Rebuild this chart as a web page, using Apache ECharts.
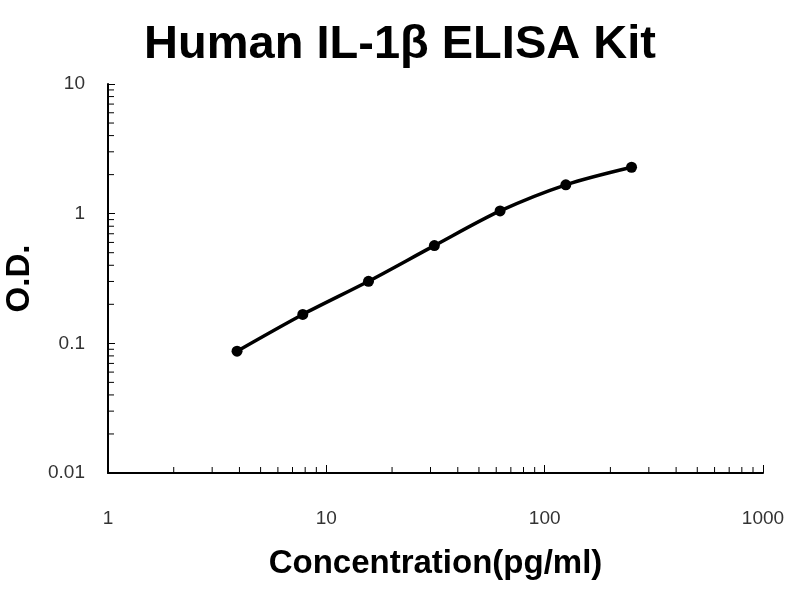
<!DOCTYPE html>
<html>
<head>
<meta charset="utf-8">
<script src="https://cdn.jsdelivr.net/npm/echarts@6/dist/echarts.min.js"></script>
<style>html,body{margin:0;padding:0;background:#fff}#c{width:800px;height:600px}</style>
</head>
<body>
<div id="c"></div>
<script>
const titleText = 'Human IL-1β ELISA Kit';
const xAxisName = 'Concentration(pg/ml)';
const yAxisName = 'O.D.';
const concentration = [3.9, 7.8, 15.6, 31.25, 62.5, 125, 250];
const od = [0.087, 0.167, 0.301, 0.567, 1.05, 1.67, 2.28];
const xRange = [1, 1000];
const yRange = [0.01, 10];
const xMinorTicks = [2,3,4,5,6,7,8,9,20,30,40,50,60,70,80,90,200,300,400,500,600,700,800,900];
const yMinorTicks = [0.02,0.03,0.04,0.05,0.06,0.07,0.08,0.09,0.2,0.3,0.4,0.5,0.6,0.7,0.8,0.9,2,3,4,5,6,7,8,9];

const chart = echarts.init(document.getElementById('c'));
const fmt = v => String(parseFloat(Number(v).toPrecision(3)));
const FONT = '"Liberation Sans", Arial, sans-serif';

chart.setOption({
  animation: false,
  backgroundColor: '#fff',
  title: {
    text: titleText, left: 395, textAlign: 'center', top: 17,
    textStyle: { fontFamily: FONT, fontSize: 47, fontWeight: 'bold', color: '#000' }
  },
  grid: { left: 108, right: 37, top: 84, bottom: 127, containLabel: false, outerBoundsMode: 'none' },
  xAxis: {
    type: 'log', logBase: 10, min: xRange[0], max: xRange[1],
    name: xAxisName, nameLocation: 'middle', nameGap: 74,
    nameTextStyle: { fontFamily: FONT, fontSize: 33, fontWeight: 'bold', color: '#000' },
    axisLine: { lineStyle: { color: '#000', width: 2 } },
    axisTick: { inside: true, length: 8, lineStyle: { color: '#000', width: 1 } },
    axisLabel: { margin: 36, fontFamily: FONT, fontSize: 19, color: '#333', formatter: fmt },
    splitLine: { show: false }
  },
  yAxis: {
    type: 'log', logBase: 10, min: yRange[0], max: yRange[1],
    name: yAxisName, nameLocation: 'middle', nameGap: 72,
    nameTextStyle: { fontFamily: FONT, fontSize: 33, fontWeight: 'bold', color: '#000' },
    axisLine: { lineStyle: { color: '#000', width: 2 } },
    axisTick: { inside: true, length: 7, lineStyle: { color: '#000', width: 1 } },
    axisLabel: { margin: 23, fontFamily: FONT, fontSize: 19, color: '#333', formatter: fmt },
    splitLine: { show: false }
  },
  series: [
    {
      type: 'line',
      data: concentration.map((c, i) => [c, od[i]]),
      smooth: 0.3,
      symbol: 'circle', symbolSize: 11, showSymbol: true,
      lineStyle: { color: '#000', width: 3.5 },
      itemStyle: { color: '#000' },
      z: 5
    },
    {
      type: 'custom', clip: false, silent: true,
      data: xMinorTicks.map(v => [v, yRange[0]]),
      renderItem: (params, api) => {
        const p = api.coord([api.value(0), api.value(1)]);
        return { type: 'line', shape: { x1: p[0], y1: p[1], x2: p[0], y2: p[1] - 6 },
                 style: { stroke: '#000', lineWidth: 1 } };
      }
    },
    {
      type: 'custom', clip: false, silent: true,
      data: yMinorTicks.map(v => [xRange[0], v]),
      renderItem: (params, api) => {
        const p = api.coord([api.value(0), api.value(1)]);
        return { type: 'line', shape: { x1: p[0], y1: p[1], x2: p[0] + 6, y2: p[1] },
                 style: { stroke: '#000', lineWidth: 1 } };
      }
    }
  ]
});
</script>
</body>
</html>
